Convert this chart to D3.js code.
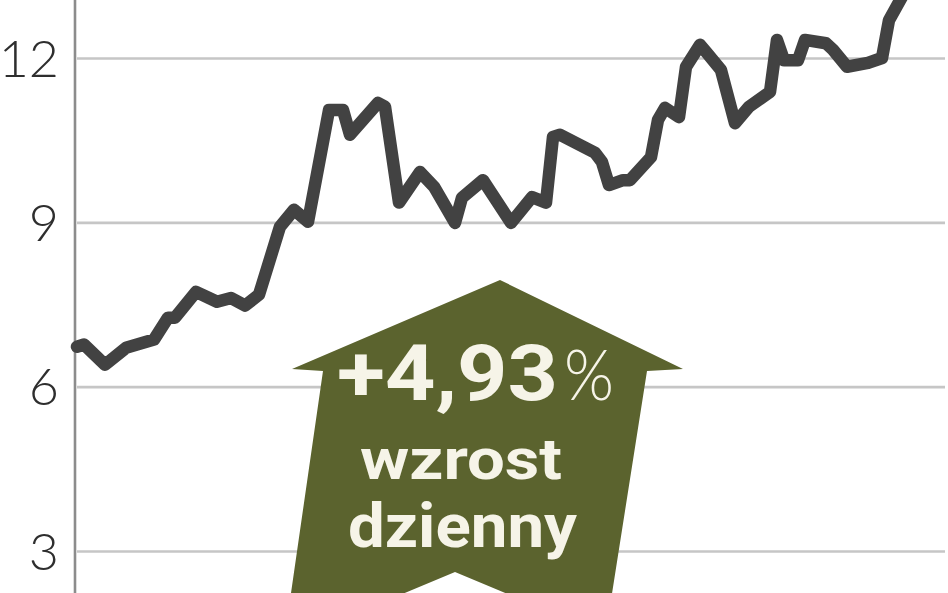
<!DOCTYPE html>
<html>
<head>
<meta charset="utf-8">
<script src="https://cdn.jsdelivr.net/npm/d3@7"></script>
<style>
  html, body { margin: 0; padding: 0; background: #fff; }
  svg { display: block; }
</style>
</head>
<body>
<svg id="chart" width="948" height="593"></svg>
<script>
// ---- data ----
const days = [0,1,4,7,11,13,14,17,20,22,24,26,29,31,33,36,38,39,43,44,46,49,51,54,55,58,62,65,67,68,69,74,75,76,78,79,82,83,84,86,87,89,90,92,94,96,99,100,101,103,104,107,108,110,113,115,116,118,120];
const prices = [6.73,6.77,6.40,6.71,6.86,7.26,7.26,7.73,7.55,7.62,7.48,7.68,8.92,9.23,9.01,11.05,11.05,10.60,11.18,11.11,9.36,9.92,9.65,8.99,9.45,9.77,8.99,9.46,9.36,10.56,10.60,10.27,10.10,9.68,9.77,9.77,10.19,10.87,11.09,10.92,11.84,12.24,12.09,11.78,10.81,11.11,11.38,12.33,11.96,11.96,12.33,12.27,12.15,11.84,11.91,12.00,12.69,13.15,13.51];
const yTicks = [3, 6, 9, 12];
const labelMain = "+4,93";
const labelPct = "%";
const labelLine2 = "wzrost";
const labelLine3 = "dzienny";

const W = 948, H = 593;
const svg = d3.select("#chart");

const x = d3.scaleLinear().domain([0, 120]).range([77, 917]);
const y = d3.scaleLinear().domain([3, 12]).range([551, 58]);

// gridlines
const grid = svg.append("g").attr("transform", "translate(77,0)")
  .call(d3.axisLeft(y).tickValues(yTicks).tickSize(-868).tickFormat(""));
grid.select(".domain").remove();
grid.selectAll(".tick line").attr("stroke", "#c6c6c6").attr("stroke-width", 2.6);

// tick labels
svg.append("g").selectAll("text").data(yTicks).join("text")
  .attr("x", 59).attr("y", d => y(d))
  .attr("dy", "0.36em")
  .attr("text-anchor", "end")
  .attr("font-family", "Lato, 'Open Sans', sans-serif")
  .attr("font-weight", 300)
  .attr("font-size", 52)
  .attr("fill", "#2e2e2e")
  .text(d => d);

// axis line
svg.append("line").attr("x1", 75).attr("x2", 75).attr("y1", 0).attr("y2", H)
  .attr("stroke", "#8c8c8c").attr("stroke-width", 2.6);

// price line
const data = days.map((d, i) => ({ d, v: prices[i] }));
svg.append("clipPath").attr("id", "clip").append("rect")
  .attr("x", 0).attr("y", 0).attr("width", W).attr("height", H);
svg.append("path").datum(data)
  .attr("clip-path", "url(#clip)")
  .attr("fill", "none")
  .attr("stroke", "#424242")
  .attr("stroke-width", 12.5)
  .attr("stroke-linejoin", "round")
  .attr("stroke-linecap", "round")
  .attr("d", d3.line().x(p => x(p.d)).y(p => y(p.v)));

// arrow annotation
const arrowPts = [
  [500, 280], [683, 369], [647, 371], [611, 600],
  [522, 600], [455, 572], [388, 600], [290, 600],
  [323, 371], [292, 369]
];
svg.append("path")
  .attr("d", d3.line()(arrowPts) + "Z")
  .attr("fill", "#5b632e");

const txtFill = "#f6f4e8";
const bold = "Roboto, 'Liberation Sans', sans-serif";
svg.append("text").attr("x", 337).attr("y", 400)
  .attr("font-family", bold).attr("font-weight", 700).attr("font-size", 78)
  .attr("fill", txtFill)
  .attr("textLength", 221).attr("lengthAdjust", "spacingAndGlyphs")
  .text(labelMain);
svg.append("text").attr("x", 564).attr("y", 400)
  .attr("font-family", "Lato, Roboto, sans-serif").attr("font-weight", 300).attr("font-size", 70)
  .attr("fill", txtFill)
  .attr("textLength", 50).attr("lengthAdjust", "spacingAndGlyphs")
  .text(labelPct);
svg.append("text").attr("x", 360).attr("y", 479)
  .attr("font-family", bold).attr("font-weight", 700).attr("font-size", 57)
  .attr("fill", txtFill)
  .attr("textLength", 202).attr("lengthAdjust", "spacingAndGlyphs")
  .text(labelLine2);
svg.append("text").attr("x", 348).attr("y", 547)
  .attr("font-family", bold).attr("font-weight", 700).attr("font-size", 62)
  .attr("fill", txtFill)
  .attr("textLength", 229).attr("lengthAdjust", "spacingAndGlyphs")
  .text(labelLine3);
</script>
</body>
</html>
